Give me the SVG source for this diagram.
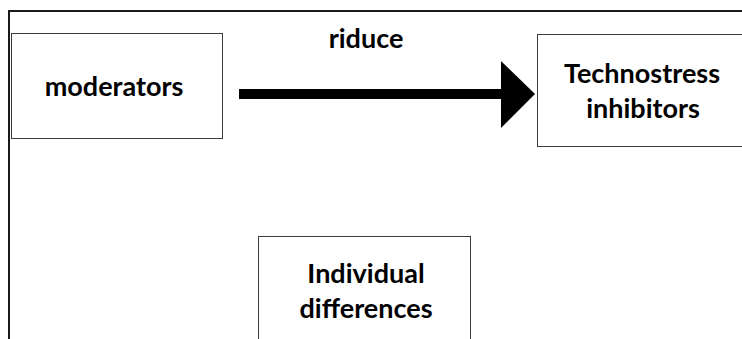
<svg xmlns="http://www.w3.org/2000/svg" width="742" height="339" viewBox="0 0 742 339">
  <style>
    .frame { fill: none; stroke: #1a1a1a; stroke-width: 2; }
    .box { fill: #ffffff; stroke: #3c3c3c; stroke-width: 1; }
    .label { font-family: Lato, "Open Sans", "Liberation Sans", sans-serif; font-weight: 700; font-size: 27px; fill: #000000; text-anchor: middle; }
  </style>

  <rect x="0" y="0" width="742" height="339" fill="#ffffff"/>

  <!-- outer frame: top and left edges only, the rest runs off the page -->
  <path class="frame" d="M9,339 V11 H742"/>

  <g id="node-moderators">
    <rect class="box" x="11.5" y="33.5" width="211" height="105"/>
    <text class="label" x="114" y="96">moderators</text>
  </g>

  <g id="node-technostress-inhibitors">
    <rect class="box" x="537.5" y="34.5" width="210" height="112"/>
    <text class="label" x="642" y="83">Technostress</text>
    <text class="label" x="643" y="118">inhibitors</text>
  </g>

  <g id="node-individual-differences">
    <rect class="box" x="258.5" y="236.5" width="212" height="110"/>
    <text class="label" x="366" y="283">Individual</text>
    <text class="label" x="366" y="318">differences</text>
  </g>

  <g id="connectors">
    <rect x="239" y="89" width="263" height="10" fill="#000000"/>
    <polygon points="501,61 535,94 501,128" fill="#000000"/>
    <text class="label" x="366" y="48">riduce</text>
  </g>
</svg>
